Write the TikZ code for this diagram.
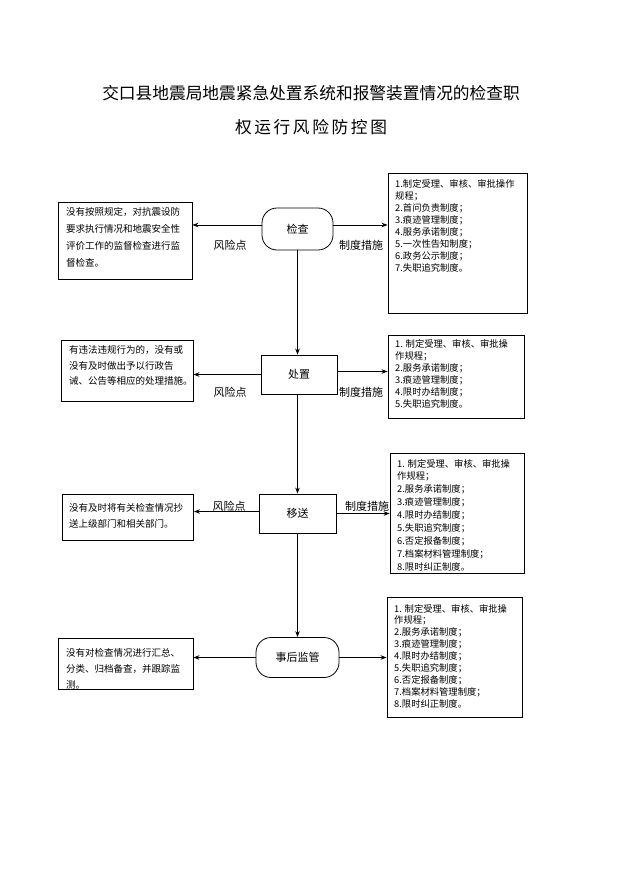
\documentclass[tikz,border=0pt]{standalone}
\usepackage{fontspec}
\setmainfont{Noto Sans CJK SC}
\usetikzlibrary{arrows.meta}
\begin{document}
\begin{tikzpicture}[x=1pt,y=-1pt,
  box/.style={draw,line width=0.8pt,inner sep=0pt},
  stadium/.style={draw,line width=0.8pt,rounded corners=15pt,inner sep=0pt,font=\fontsize{11}{13}\selectfont},
  proc/.style={draw,line width=0.8pt,inner sep=0pt,font=\fontsize{11}{13}\selectfont},
  arr/.style={line width=1pt,-{Stealth[length=6pt,width=4.5pt]}},
  lbl/.style={font=\fontsize{11}{13}\selectfont,inner sep=0pt},
  ltxt/.style={anchor=north west,align=left,inner sep=0pt},
  rtxt/.style={anchor=north west,align=left,inner sep=0pt}
]
\useasboundingbox (0,0) rectangle (621,878);
% title
\node[font=\fontsize{16.7}{20}\selectfont] (t1) at (311,93) {交口县地震局地震紧急处置系统和报警装置情况的检查职};
\node[font=\fontsize{16.7}{20}\selectfont] (t2) at (311,127) {\makebox[152pt][s]{权\hfill 运\hfill 行\hfill 风\hfill 险\hfill 防\hfill 控\hfill 图}};

% center column
\node[stadium,minimum width=71pt,minimum height=42pt] (jc) at (297.5,229) {检查};
\node[proc,minimum width=76pt,minimum height=39pt] (cz) at (299,374.5) {处置};
\node[proc,minimum width=77pt,minimum height=39pt] (ys) at (297.5,513.5) {移送};
\node[stadium,minimum width=83pt,minimum height=40pt] (sh) at (297.5,657.5) {事后监管};

\draw[arr] (jc.south) -- (cz.north -| jc.south);
\draw[arr] (cz.south -| jc.south) -- (ys.north -| jc.south);
\draw[arr] (ys.south -| jc.south) -- (sh.north);

% left boxes
\node[box,minimum width=134pt,minimum height=77pt] (L1) at (125,240.5) {};
\node[ltxt,font=\fontsize{9.5}{17}\selectfont] (L1t) at (66,207) {没有按照规定，对抗震设防\\要求执行情况和地震安全性\\评价工作的监督检查进行监\\督检查。};
\node[box,minimum width=132pt,minimum height=61pt] (L2) at (127,370.5) {};
\node[ltxt,font=\fontsize{9.5}{15.5}\selectfont] (L2t) at (69,345.5) {有违法违规行为的，没有或\\没有及时做出予以行政告\\诫、公告等相应的处理措施。};
\node[box,minimum width=131pt,minimum height=46pt] (L3) at (128,517) {};
\node[ltxt,font=\fontsize{9.5}{16}\selectfont] (L3t) at (69,503) {没有及时将有关检查情况抄\\送上级部门和相关部门。};
\node[box,minimum width=135pt,minimum height=51pt] (L4) at (125.5,663.5) {};
\node[ltxt,font=\fontsize{9.5}{16}\selectfont] (L4t) at (66,648) {没有对检查情况进行汇总、\\分类、归档备查，并跟踪监\\测。};

% right boxes
\node[box,minimum width=139pt,minimum height=140pt] (R1) at (457.5,243) {};
\node[rtxt,font=\fontsize{9.3}{12}\selectfont] (R1t) at (395,179) {1.制定受理、审核、审批操作\\规程；\\2.首问负责制度；\\3.痕迹管理制度；\\4.服务承诺制度；\\5.一次性告知制度；\\6.政务公示制度；\\7.失职追究制度。};
\node[box,minimum width=136pt,minimum height=83pt] (R2) at (456,376.5) {};
\node[rtxt,font=\fontsize{9.3}{12}\selectfont] (R2t) at (395,339) {1. 制定受理、审核、审批操\\作规程；\\2.服务承诺制度；\\3.痕迹管理制度；\\4.限时办结制度；\\5.失职追究制度。};
\node[box,minimum width=134pt,minimum height=120pt] (R3) at (457,513) {};
\node[rtxt,font=\fontsize{9.3}{12.9}\selectfont] (R3t) at (397,459) {1. 制定受理、审核、审批操\\作规程；\\2.服务承诺制度；\\3.痕迹管理制度；\\4.限时办结制度；\\5.失职追究制度；\\6.否定报备制度；\\7.档案材料管理制度；\\8.限时纠正制度。};
\node[box,minimum width=135pt,minimum height=120pt] (R4) at (454.5,657) {};
\node[rtxt,font=\fontsize{9.3}{11.9}\selectfont] (R4t) at (394,604) {1. 制定受理、审核、审批操\\作规程；\\2.服务承诺制度；\\3.痕迹管理制度；\\4.限时办结制度；\\5.失职追究制度；\\6.否定报备制度；\\7.档案材料管理制度；\\8.限时纠正制度。};

% horizontal connectors
\coordinate (a1) at ([yshift=4pt]jc.west);
\coordinate (b1) at ([yshift=4pt]jc.east);
\draw[arr] (a1) -- (a1 -| L1.east);
\draw[arr] (b1) -- (b1 -| R1.west);
\node[lbl] (k1) at (230,245) {风险点};
\node[lbl] (m1) at (361,245) {制度措施};

\draw[arr] (cz.west) -- (cz.west -| L2.east);
\coordinate (b2) at ([yshift=3pt]cz.east);
\draw[arr] (b2) -- (b2 -| R2.west);
\node[lbl] (k2) at (230,392) {风险点};
\node[lbl] (m2) at (361,392) {制度措施};

\coordinate (a3) at ([yshift=2pt]ys.west);
\draw[arr] (a3) -- (a3 -| L3.east);
\draw[arr] (ys.east) -- (ys.east -| R3.west);
\node[lbl] (k3) at (229,506) {风险点};
\node[lbl] (m3) at (367,506) {制度措施};

\draw[arr] (sh.west) -- (sh.west -| L4.east);
\draw[arr] (sh.east) -- (sh.east -| R4.west);
\end{tikzpicture}
\end{document}
